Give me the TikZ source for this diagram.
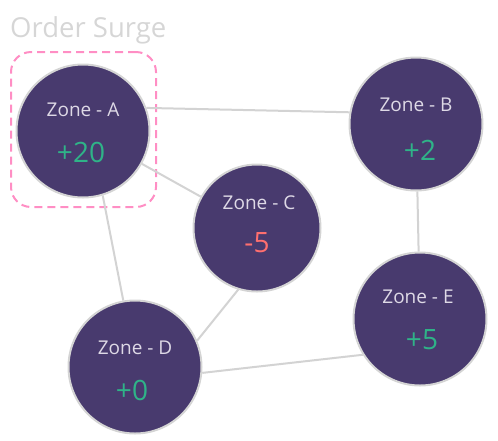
\documentclass[tikz,border=0pt]{standalone}
\usepackage{fontspec}
\setmainfont{Open Sans}
\definecolor{zfill}{HTML}{483A6E}
\definecolor{zborder}{HTML}{D4D4D4}
\definecolor{edgecol}{HTML}{D3D3D3}
\definecolor{labcol}{HTML}{DED9E6}
\definecolor{posgreen}{HTML}{2FB388}
\definecolor{negred}{HTML}{FF6F6F}
\definecolor{pinkdash}{HTML}{FF8EC4}
\definecolor{titlecol}{HTML}{D6D6D6}
\begin{document}
\begin{tikzpicture}[x=1pt,y=-1pt,
  zone/.style={circle,fill=zfill,draw=zborder,line width=2pt,minimum size=133pt,inner sep=0pt},
  zlab/.style={text=labcol,font=\fontsize{19}{19}\selectfont,inner sep=0pt},
  zpos/.style={text=posgreen,font=\fontsize{28}{28}\selectfont,inner sep=0pt},
  zneg/.style={text=negred,font=\fontsize{28}{28}\selectfont,inner sep=0pt},
  link/.style={draw=edgecol,line width=2pt}]
\useasboundingbox (0,0) rectangle (498,440);
% highlight box
\node[draw=pinkdash,line width=2pt,dash pattern=on 8pt off 5pt,rounded corners=20pt,minimum width=145pt,minimum height=155pt,inner sep=0pt] (hl) at (83.5,129.5) {};
\node[anchor=base west,text=titlecol,font=\fontsize{27.5}{27.5}\selectfont,inner sep=0pt] (title) at (10,37) {Order Surge};
% edges (drawn first, circles on top)
\coordinate (a0) at (83,131);
\coordinate (b0) at (416,124);
\coordinate (c0) at (257,228);
\coordinate (d0) at (135,367);
\coordinate (e0) at (420,319);
% zones
\node[zone] (a) at (a0) {};
\node[zone] (b) at (b0) {};
\node[zone,minimum size=127pt] (c) at (c0) {};
\node[zone] (d) at (d0) {};
\node[zone] (e) at (e0) {};
\draw[link] (a.20) -- (b.170);
\draw[link] (a) -- (c);
\draw[link] (a.-73) -- (d.100);
\draw[link] (b) -- (e);
\draw[link] (c.-107) -- (d.23);
\draw[link] (d.-5) -- (e.-148);
% texts
\node[zlab] (alab) at (83,110) {Zone - A};
\node[zpos] (aval) at (81,152) {+20};
\node[zlab] (blab) at (416,105) {Zone - B};
\node[zpos] (bval) at (420,150) {+2};
\node[zlab] (clab) at (259,203) {Zone - C};
\node[zneg] (cval) at (257,243) {-5};
\node[zlab] (dlab) at (135,348) {Zone - D};
\node[zpos] (dval) at (132,390) {+0};
\node[zlab] (elab) at (418,297) {Zone - E};
\node[zpos] (eval) at (422,340) {+5};
\end{tikzpicture}
\end{document}
